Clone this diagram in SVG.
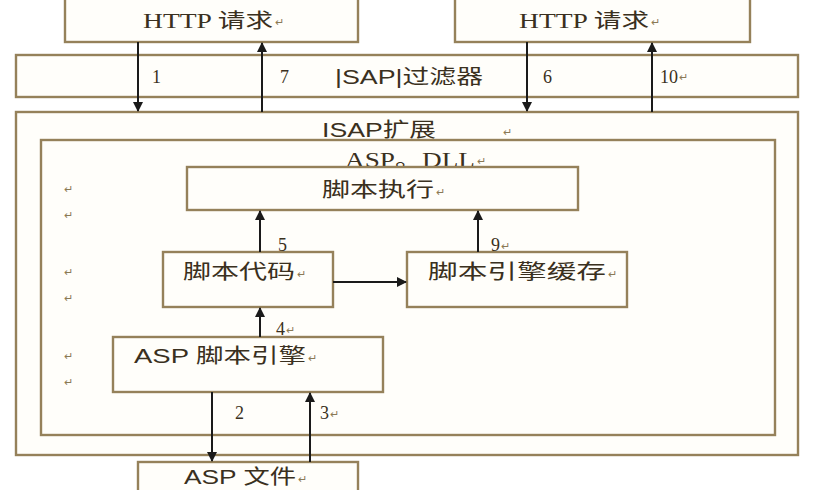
<svg xmlns="http://www.w3.org/2000/svg" width="814" height="490" viewBox="0 0 814 490">
<style>
.box{fill:#fffefa;stroke:#95815a;stroke-width:2.4}
.t{font-family:"Liberation Serif","Noto Sans CJK SC",serif;font-size:20px;fill:#3a3020}
.s{font-family:"Liberation Sans","Noto Sans CJK SC",sans-serif;font-size:20px;fill:#3a3020}
.n{font-family:"Liberation Serif",serif;font-size:18px;fill:#3a3020}
.m{font-family:"Liberation Sans","Noto Sans CJK SC",sans-serif;font-size:11px;fill:#8a7a55}
.a{stroke:#1a1a1a;stroke-width:2;fill:none;marker-end:url(#ah)}
</style>
<defs>
<marker id="ah" viewBox="0 0 10 10" refX="9" refY="5" markerWidth="5" markerHeight="5" orient="auto" markerUnits="strokeWidth">
<path d="M0,0 L10,5 L0,10 z" fill="#1a1a1a"/>
</marker>
</defs>
<rect width="814" height="490" fill="#ffffff"/>
<g id="isap-ext">
<rect class="box" x="16" y="112" width="782" height="343"/>
<text class="s" x="322" y="137" textLength="114" lengthAdjust="spacingAndGlyphs">ISAP扩展</text>
<text class="m" x="503" y="136">↵</text>
</g>
<g id="asp-dll">
<rect class="box" x="41" y="140" width="734" height="295"/>
<text class="t" x="345" y="167" textLength="130" lengthAdjust="spacingAndGlyphs">ASP。DLL</text>
<text class="m" x="477" y="165">↵</text>
<text class="m" x="64" y="193">↵</text>
<text class="m" x="64" y="219">↵</text>
<text class="m" x="64" y="276">↵</text>
<text class="m" x="64" y="302">↵</text>
<text class="m" x="64" y="360">↵</text>
<text class="m" x="64" y="386">↵</text>
</g>
<g id="http1">
<rect class="box" x="65" y="-4" width="293" height="46"/>
<text class="t" x="143" y="28" textLength="130" lengthAdjust="spacingAndGlyphs">HTTP 请求</text>
<text class="m" x="275" y="26">↵</text>
</g>
<g id="http2">
<rect class="box" x="455" y="-4" width="295" height="46"/>
<text class="t" x="519" y="28" textLength="130" lengthAdjust="spacingAndGlyphs">HTTP 请求</text>
<text class="m" x="651" y="26">↵</text>
</g>
<g id="isap-filter">
<rect class="box" x="16" y="55" width="782" height="42"/>
<text class="s" x="335" y="84" textLength="148" lengthAdjust="spacingAndGlyphs">|SAP|过滤器</text>
</g>
<g id="script-exec">
<rect class="box" x="187" y="167" width="391" height="43"/>
<text class="s" x="322" y="197" textLength="112" lengthAdjust="spacingAndGlyphs">脚本执行</text>
<text class="m" x="436" y="196">↵</text>
</g>
<g id="script-code">
<rect class="box" x="163" y="252" width="170" height="55"/>
<text class="s" x="183" y="279" textLength="112" lengthAdjust="spacingAndGlyphs">脚本代码</text>
<text class="m" x="297" y="278">↵</text>
</g>
<g id="engine-cache">
<rect class="box" x="407" y="252" width="220" height="55"/>
<text class="s" x="428" y="279" textLength="178" lengthAdjust="spacingAndGlyphs">脚本引擎缓存</text>
<text class="m" x="608" y="278">↵</text>
</g>
<g id="asp-engine">
<rect class="box" x="113" y="337" width="270" height="55"/>
<text class="s" x="134" y="363" textLength="172" lengthAdjust="spacingAndGlyphs">ASP 脚本引擎</text>
<text class="m" x="308" y="362">↵</text>
</g>
<g id="asp-file">
<rect class="box" x="138" y="462" width="220" height="40"/>
<text class="s" x="184" y="484" font-size="18" textLength="112" lengthAdjust="spacingAndGlyphs">ASP 文件</text>
<text class="m" x="298" y="483">↵</text>
</g>
<g id="connectors">
<line class="a" x1="138" y1="42" x2="138" y2="111"/>
<line class="a" x1="262" y1="112" x2="262" y2="43"/>
<line class="a" x1="527" y1="42" x2="527" y2="111"/>
<line class="a" x1="652" y1="112" x2="652" y2="43"/>
<line class="a" x1="260" y1="252" x2="260" y2="211"/>
<line class="a" x1="478" y1="252" x2="478" y2="211"/>
<line class="a" x1="333" y1="282" x2="406" y2="282"/>
<line class="a" x1="260" y1="337" x2="260" y2="308"/>
<line class="a" x1="212" y1="392" x2="212" y2="461"/>
<line class="a" x1="310" y1="462" x2="310" y2="393"/>
<text class="n" x="152" y="83">1</text>
<text class="n" x="280" y="83">7</text>
<text class="n" x="543" y="83">6</text>
<text class="n" x="660" y="83">10</text>
<text class="m" x="679" y="81">↵</text>
<text class="n" x="278" y="251">5</text>
<text class="n" x="491" y="251">9</text>
<text class="m" x="501" y="250">↵</text>
<text class="n" x="276" y="335">4</text>
<text class="m" x="286" y="334">↵</text>
<text class="n" x="235" y="419">2</text>
<text class="n" x="320" y="419">3</text>
<text class="m" x="330" y="418">↵</text>
</g>
</svg>
